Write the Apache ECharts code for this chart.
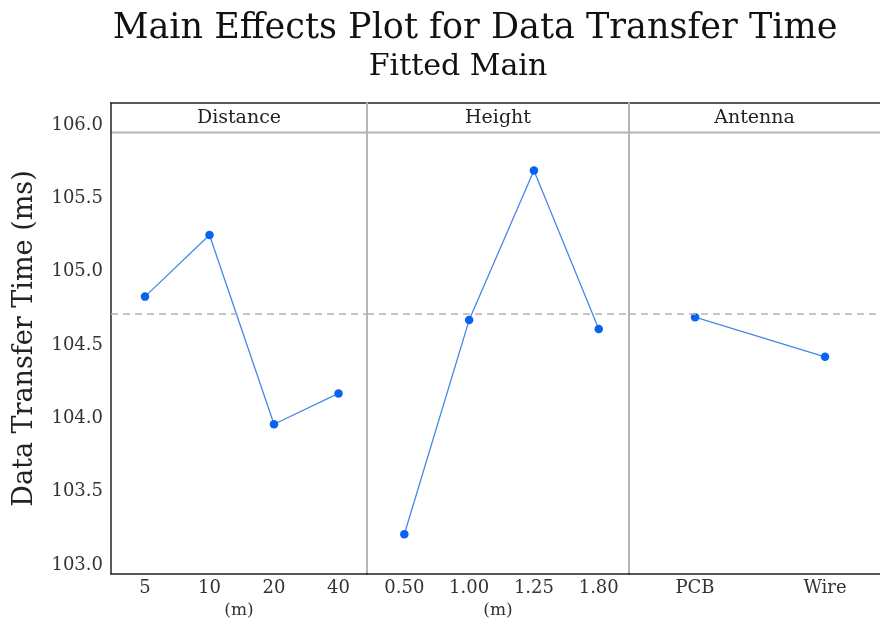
<!DOCTYPE html>
<html>
<head>
<meta charset="utf-8">
<script src="https://cdn.jsdelivr.net/npm/echarts@6/dist/echarts.min.js"></script>
<style>html,body{margin:0;padding:0;background:#fff}#chart{width:880px;height:623px}</style>
</head>
<body>
<div id="chart"></div>
<script>
// ---- data ----
const distanceCats = ['5', '10', '20', '40'];
const distanceVals = [104.83, 105.25, 103.96, 104.17];
const heightCats = ['0.50', '1.00', '1.25', '1.80'];
const heightVals = [103.21, 104.67, 105.69, 104.61];
const antennaCats = ['PCB', 'Wire'];
const antennaVals = [104.69, 104.42];
const grandMean = 104.71;
const yTicks = [103.0, 103.5, 104.0, 104.5, 105.0, 105.5, 106.0];
const panelNames = ['Distance', 'Height', 'Antenna'];
const unitNames = ['(m)', '(m)', ''];

const FONT = 'DejaVu Serif';
const TOP = 103, BOTTOM = 574;
const panels = [
  { left: 111, right: 367, cats: distanceCats, vals: distanceVals, min: -0.527, max: 3.442 },
  { left: 367, right: 629, cats: heightCats, vals: heightVals, min: -0.576, max: 3.467 },
  { left: 629, right: 880, cats: antennaCats, vals: antennaVals, min: -0.508, max: 1.423 }
];

const chart = echarts.init(document.getElementById('chart'));
const grid = [], xAxis = [], yAxis = [], series = [], graphic = [];

panels.forEach((p, k) => {
  grid.push({ left: p.left, top: TOP, width: p.right - p.left, height: BOTTOM - TOP,
    containLabel: false, outerBoundsMode: 'none' });
  xAxis.push({
    type: 'value', gridIndex: k, min: p.min, max: p.max,
    axisLine: { show: true, onZero: false, lineStyle: { color: '#222', width: 1.5 } },
    axisTick: { show: false },
    splitLine: { show: false },
    axisLabel: {
      customValues: p.cats.map((c, i) => i),
      formatter: v => p.cats[Math.round(v)],
      fontFamily: FONT, fontSize: 18, color: '#333', margin: 5
    },
    name: unitNames[k], nameLocation: 'middle', nameGap: 26,
    nameTextStyle: { fontFamily: FONT, fontSize: 17, color: '#333' }
  });
  yAxis.push({
    type: 'value', gridIndex: k, min: 102.939, max: 106.15,
    axisLine: { show: true, onZero: false, lineStyle: { color: k === 0 ? '#222' : '#b5b5b5', width: k === 0 ? 1.5 : 2 } },
    axisTick: { show: false },
    splitLine: { show: false },
    axisLabel: k === 0 ? {
      customValues: yTicks,
      formatter: v => v.toFixed(1),
      fontFamily: FONT, fontSize: 18, color: '#333', margin: 8, padding: [4, 0, 0, 0]
    } : { show: false },
    name: k === 0 ? 'Data Transfer Time (ms)' : '',
    nameLocation: 'middle', nameGap: 73, nameRotate: 90,
    nameTextStyle: { fontFamily: FONT, fontSize: 27, color: '#222' }
  });
  series.push({
    type: 'line', xAxisIndex: k, yAxisIndex: k,
    data: p.vals.map((v, i) => [i, v]),
    symbol: 'circle', symbolSize: 8.5,
    itemStyle: { color: '#0a63f0' },
    lineStyle: { color: '#4a86e6', width: 1.3 },
    silent: true, animation: false,
    markLine: {
      silent: true, symbol: 'none', animation: false,
      label: { show: false },
      lineStyle: { color: '#b3b3b3', width: 1.6, type: [7, 5] },
      data: [{ yAxis: grandMean }]
    }
  });
  graphic.push({
    type: 'text',
    style: { text: panelNames[k], x: (p.left + p.right) / 2, y: 118, align: 'center', verticalAlign: 'middle',
      font: '19px "' + FONT + '"', fill: '#222' }
  });
});

graphic.push({ type: 'line', shape: { x1: 111, y1: 132.5, x2: 880, y2: 132.5 }, style: { stroke: '#b5b5b5', lineWidth: 2 } });
graphic.push({ type: 'line', shape: { x1: 110.25, y1: TOP, x2: 880, y2: TOP }, style: { stroke: '#222', lineWidth: 1.5 } });
graphic.push({ type: 'text', style: { text: 'Main Effects Plot for Data Transfer Time', x: 475, y: 29, align: 'center', verticalAlign: 'middle', font: '35px "' + FONT + '"', fill: '#111' } });
graphic.push({ type: 'text', style: { text: 'Fitted Main', x: 458, y: 67, align: 'center', verticalAlign: 'middle', font: '30px "' + FONT + '"', fill: '#111' } });

chart.setOption({
  animation: false,
  backgroundColor: '#fff',
  grid, xAxis, yAxis, series, graphic
});
</script>
</body>
</html>
